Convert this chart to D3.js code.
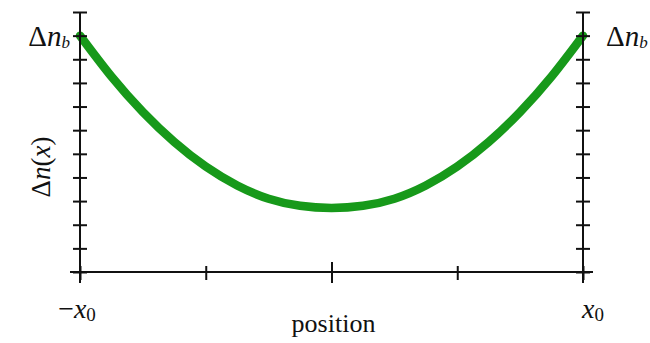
<!DOCTYPE html>
<html><head><meta charset="utf-8">
<script src="https://cdn.jsdelivr.net/npm/d3@7"></script>
<style>body{margin:0;background:#fff}svg{display:block}text{font-family:"Liberation Serif","Times New Roman",serif;fill:#111}</style>
</head><body><svg id="c" width="650" height="343"></svg>
<script>
// data
const positions = [-1, -0.875, -0.75, -0.625, -0.5, -0.375, -0.25, -0.125, 0, 0.125, 0.25, 0.375, 0.5, 0.625, 0.75, 0.875, 1];
const deltaN   = [10, 8.27, 6.77, 5.50, 4.46, 3.66, 3.10, 2.80, 2.71, 2.80, 3.10, 3.66, 4.46, 5.50, 6.77, 8.27, 10];
const yTicks = [0,1,2,3,4,5,6,7,8,9,10,11];
const xTicks = [-1,-0.5,0,0.5,1];
const yTickLabelValue = 10;
const xTickLabels = [{v:-1, t:"−x", sub:"0"}, {v:1, t:"x", sub:"0"}];

const svg = d3.select("#c");
const x = d3.scaleLinear().domain([-1,1]).range([80,583]);
const y = d3.scaleLinear().domain([0,11]).range([272,12]);

// curve
svg.append("path")
  .datum(positions.map((p,i)=>[p,deltaN[i]]))
  .attr("fill","none").attr("stroke","#17991a").attr("stroke-width",8.5)
  .attr("stroke-linecap","round")
  .attr("d", d3.line().x(d=>x(d[0])).y(d=>y(d[1])).curve(d3.curveNatural));

// axes
const ax = "#111";
function yAxis(px){
  const g = svg.append("g").attr("transform",`translate(${px},0)`)
    .call(d3.axisLeft(y).tickValues(yTicks).tickFormat("").tickSizeOuter(0));
  g.select(".domain").remove();
  g.selectAll(".tick line").attr("x1",-7).attr("x2",7).attr("stroke",ax).attr("stroke-width",2);
  g.append("line").attr("x1",0).attr("x2",0).attr("y1",y(11)).attr("y2",283).attr("stroke",ax).attr("stroke-width",2);
}
yAxis(x(-1)); yAxis(x(1));

const gx = svg.append("g").attr("transform",`translate(0,${y(0)})`)
  .call(d3.axisBottom(x).tickValues(xTicks).tickFormat("").tickSizeOuter(0));
gx.select(".domain").remove();
gx.selectAll(".tick line").attr("y1",d=>d===0?-10:-6).attr("y2",d=>d===0?11:8).attr("stroke",ax).attr("stroke-width",2);
gx.append("line").attr("x1",70).attr("x2",593).attr("y1",0).attr("y2",0).attr("stroke",ax).attr("stroke-width",2);

// y tick labels (Δn_b) on both sides
function dnb(xp, anchor){
  const t = svg.append("text").attr("x",xp).attr("y",y(yTickLabelValue)+10).attr("text-anchor",anchor).attr("font-size",29);
  t.append("tspan").text("Δ");
  t.append("tspan").attr("font-style","italic").text("n");
  t.append("tspan").attr("font-style","italic").attr("font-size",17).attr("dy",2).text("b");
}
dnb(x(-1)-10,"end");
dnb(x(1)+23,"start");

// x tick labels
xTickLabels.forEach(l=>{
  const t = svg.append("text").attr("x",x(l.v)+(l.v<0?-3:10)).attr("y",318).attr("text-anchor","middle").attr("font-size",28);
  if(l.t.startsWith("−")){ t.append("tspan").text("−"); t.append("tspan").attr("font-style","italic").text("x"); }
  else t.append("tspan").attr("font-style","italic").text(l.t);
  t.append("tspan").attr("font-size",19).attr("dy",3).text(l.sub);
});

// axis titles
svg.append("text").attr("x",x(0)+2).attr("y",332).attr("text-anchor","middle").attr("font-size",26).text("position");
const yt = svg.append("text").attr("transform",`translate(50,167) rotate(-90)`).attr("text-anchor","middle").attr("font-size",27);
yt.append("tspan").text("Δ");
yt.append("tspan").attr("font-style","italic").text("n");
yt.append("tspan").text("(");
yt.append("tspan").attr("font-style","italic").text("x");
yt.append("tspan").text(")");
</script></body></html>
